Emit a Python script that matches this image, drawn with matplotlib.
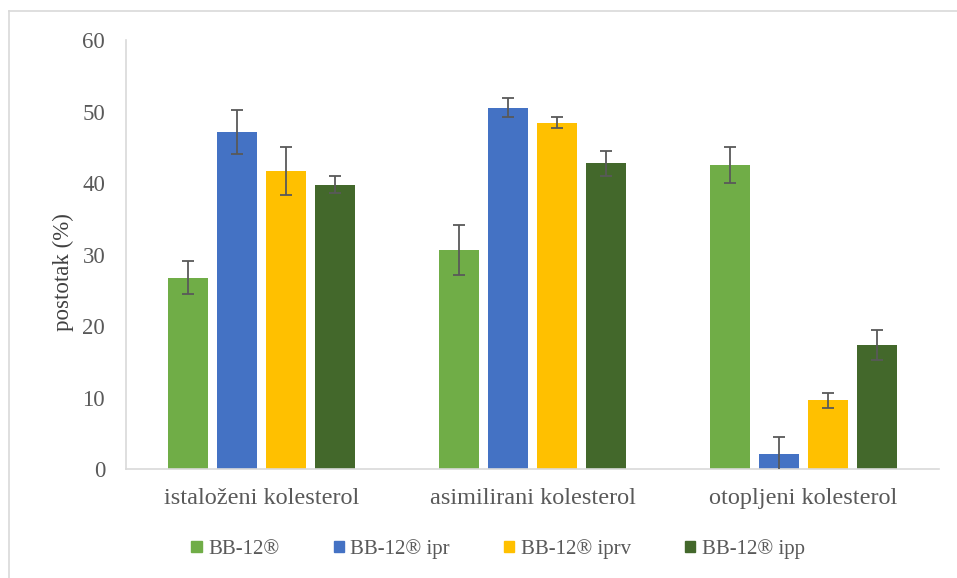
import numpy as np
import matplotlib
matplotlib.use("Agg")
import matplotlib.pyplot as plt
from matplotlib.lines import Line2D

plt.rcParams['font.family'] = ['Liberation Serif', 'DejaVu Serif']

# data
categories = ['istaloženi kolesterol', 'asimilirani kolesterol', 'otopljeni kolesterol']
series = ['BB-12®', 'BB-12® ipr', 'BB-12® iprv', 'BB-12® ipp']
values = [
    [26.8, 30.6, 42.6],   # BB-12®
    [47.2, 50.6, 2.1],    # BB-12® ipr
    [41.7, 48.5, 9.6],    # BB-12® iprv
    [39.8, 42.8, 17.3],   # BB-12® ipp
]
errors = [
    [2.3, 3.5, 2.5],
    [3.1, 1.3, 2.4],
    [3.4, 0.75, 1.1],
    [1.2, 1.75, 2.1],
]
colors = ['#70ad47', '#4472c4', '#ffc000', '#43682b']

fig = plt.figure(figsize=(9.57, 5.78), dpi=100)
ax = fig.add_axes([126 / 957, 109 / 578, 813 / 957, 428.6 / 578])

x = np.arange(len(categories))
width = 0.147
pitch = 0.181
for i, (name, vals, errs, col) in enumerate(zip(series, values, errors, colors)):
    pos = x + (i - 1.5) * pitch
    ax.bar(pos, vals, width, color=col, label=name, zorder=2)
    ax.errorbar(pos, vals, yerr=errs, fmt='none', ecolor='#595959',
                elinewidth=1.3, capsize=4.3, capthick=1.3, zorder=3)

ax.set_xlim(-0.5, 2.5)
ax.set_ylim(0, 60)
ax.set_yticks(range(0, 61, 10))
ax.set_xticks(x)
ax.set_xticklabels(categories, fontsize=17.5)
ax.tick_params(axis='both', length=0, colors='#595959')
ax.tick_params(axis='y', labelsize=16.5, pad=15)
ax.tick_params(axis='x', pad=14)
for s in ['top', 'right']:
    ax.spines[s].set_visible(False)
for s in ['left', 'bottom']:
    ax.spines[s].set_color('#d9d9d9')
    ax.spines[s].set_linewidth(1.2)
ax.set_ylabel('postotak (%)', fontsize=16.5, color='#404040')
ax.yaxis.set_label_coords(-0.064, 0.46)

handles = [plt.Rectangle((0, 0), 1, 1, color=c) for c in colors]
leg = fig.legend(handles, series, loc='center', bbox_to_anchor=(498 / 957, 1 - 549 / 578),
                 ncol=4, frameon=False, fontsize=15, handlelength=0.5, handleheight=0.5,
                 handletextpad=0.3, columnspacing=2.6)
for t in leg.get_texts():
    t.set_color('#595959')

# thin outer frame lines (top and left) as in the reference
fig.add_artist(Line2D([9 / 957, 1], [1 - 10.5 / 578, 1 - 10.5 / 578],
                      transform=fig.transFigure, color='#d9d9d9', lw=1.2))
fig.add_artist(Line2D([9 / 957, 9 / 957], [0, 1 - 10.5 / 578],
                      transform=fig.transFigure, color='#d9d9d9', lw=1.2))

fig.savefig('out.png', dpi=100)
